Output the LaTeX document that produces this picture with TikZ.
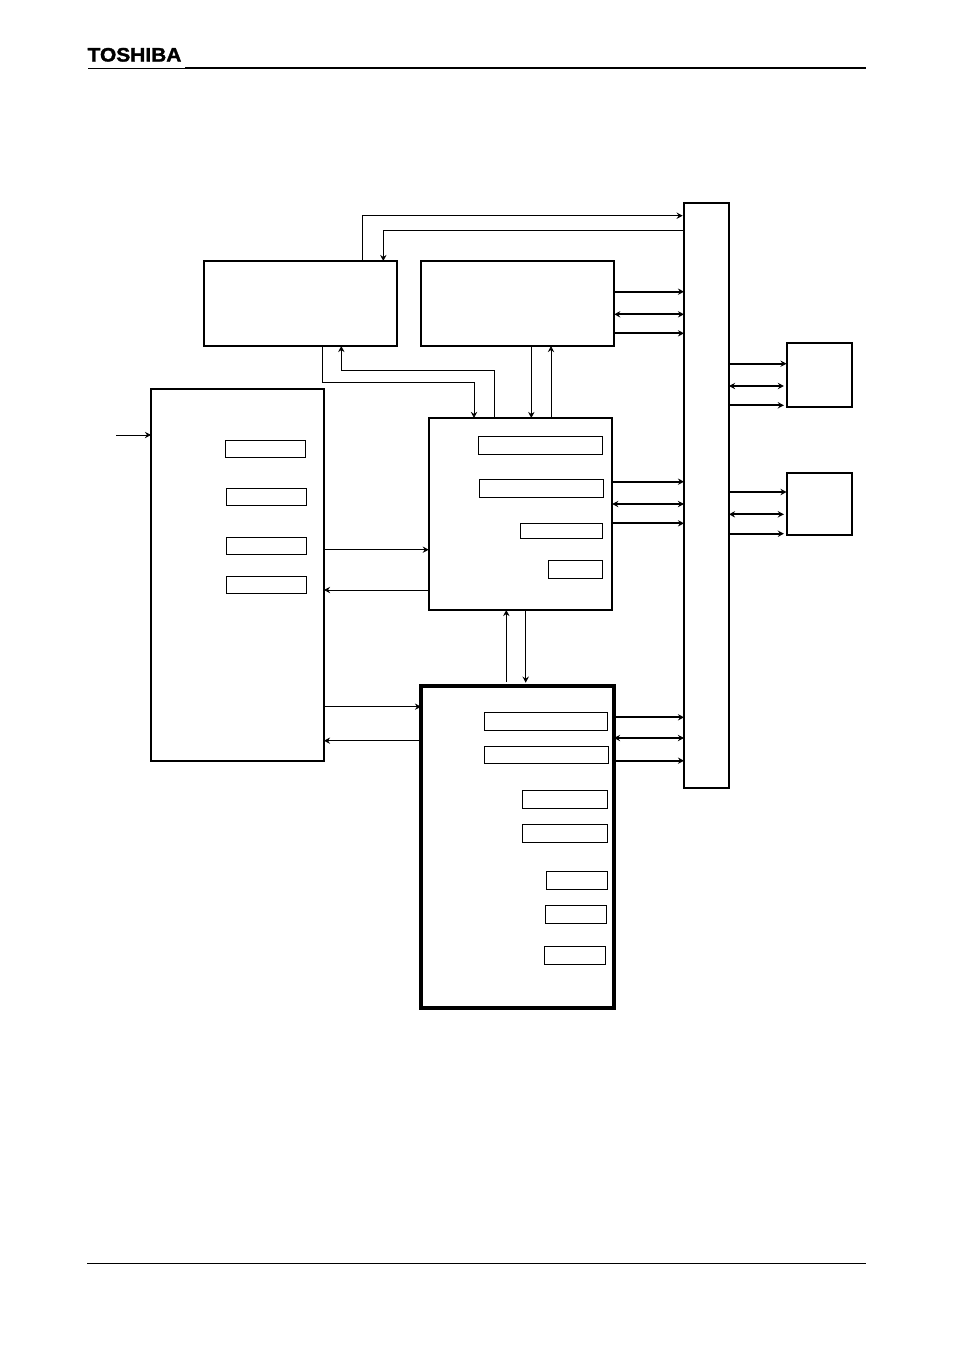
\documentclass[tikz,border=0pt]{standalone}
\usepackage{fontspec}
\setmainfont{Liberation Sans}
\newfontfamily\logofont[FakeBold=1.6,FakeStretch=1.075]{Liberation Sans Bold}
\usetikzlibrary{arrows.meta}

\tikzset{
  wh/.style 2 args={minimum width=#1*0.75pt,minimum height=#2*0.75pt},
  blk/.style={draw,line width=1.5pt,inner sep=0pt,outer sep=0pt},
  reg/.style={draw,line width=0.7pt,inner sep=0pt,outer sep=0pt},
  sig/.style={line width=0.6pt},
  bundle/.style={line width=1.3pt},
  >={Stealth[length=4.6pt,width=4.8pt,inset=1.6pt]}
}

\begin{document}
\begin{tikzpicture}[x=0.75pt,y=-0.75pt]
\useasboundingbox (0,0) rectangle (954,1350);

% page header and footer
\node[inner sep=0pt,font=\fontsize{14.6}{16}\logofont] (logo) at (134.5,54.8) {TOSHIBA};
\coordinate (h0) at (88,68.4);
\coordinate (h1) at (185,68.4);
\coordinate (h2) at (866,67.8);
\coordinate (f0) at (87,1263);
\coordinate (f1) at (866,1263);
\draw[line width=0.6pt] (h0)--(h1);
\draw[line width=1.3pt] (h1 |- h2)--(h2);
\draw[line width=0.6pt] (f0)--(f1);

% main blocks
\node[blk,wh={193}{85}] (topl) at (300.5,303.5) {};
\node[blk,wh={193.5}{85}] (topr) at (517.5,303.5) {};
\node[blk,wh={173}{372}] (left) at (237.5,575) {};
\node[blk,wh={183.5}{192}] (mid) at (520.5,514) {};
\node[blk,line width=2.6pt,wh={193}{322}] (low) at (517.5,847) {};
\node[blk,wh={45}{585}] (bus) at (706.5,495.5) {};
\node[blk,wh={65.5}{64}] (ext1) at (819.3,375) {};
\node[blk,wh={65.5}{62.5}] (ext2) at (819.3,504) {};

% registers in the left block
\node[reg,wh={80}{17}] (left1) at (265,448.5) {};
\node[reg,wh={80}{17}] (left2) at (266,496.5) {};
\node[reg,wh={80}{17}] (left3) at (266.5,545.5) {};
\node[reg,wh={80}{17}] (left4) at (266.5,584.5) {};

% registers in the middle block
\node[reg,wh={124}{18}] (mid1) at (540,445) {};
\node[reg,wh={124}{18}] (mid2) at (541,488) {};
\node[reg,wh={82}{15}] (mid3) at (561,530.5) {};
\node[reg,wh={54}{18}] (mid4) at (575,569) {};

% registers in the low block
\node[reg,wh={123}{17.5}] (low1) at (546,721.5) {};
\node[reg,wh={124}{17.5}] (low2) at (546.5,755) {};
\node[reg,wh={85}{18}] (low3) at (564.5,799) {};
\node[reg,wh={85}{18}] (low4) at (564.5,833) {};
\node[reg,wh={61}{18}] (low5) at (576.5,880) {};
\node[reg,wh={61}{18}] (low6) at (575.5,914) {};
\node[reg,wh={61}{18}] (low7) at (574.5,955) {};

% single signals
\coordinate (in) at (116,435);
\draw[->,sig] (in)--(left.west |- in);
\draw[->,sig,shorten >=1pt] (topl.north -| 362.3,0)|-(bus.west |- 0,215.7);
\draw[->,sig] (bus.west |- 0,230.7)-|(topl.north -| 383.3,0);
\draw[->,sig] (topl.south -| 322.7,0)--(322.7,382.7)-|(mid.north -| 474,0);
\draw[->,sig] (mid.north -| 494.3,0)--(494.3,370.3)-|(topl.south -| 341.3,0);
\draw[->,sig] (topr.south -| 531.3,0)--(mid.north -| 531.3,0);
\draw[->,sig] (mid.north -| 551,0)--(topr.south -| 551,0);
\draw[->,sig] (left.east |- 0,549.7)--(mid.west |- 0,549.7);
\draw[->,sig] (mid.west |- 0,590)--(left.east |- 0,590);
\draw[->,sig] (left.east |- 0,706.7)--(low.west |- 0,706.7);
\draw[->,sig] (low.west |- 0,740.7)--(left.east |- 0,740.7);
\draw[->,sig,shorten <=3pt] (low.north -| 506.3,0)--(mid.south -| 506.3,0);
\draw[->,sig,shorten >=2.5pt] (mid.south -| 525.7,0)--(low.north -| 525.7,0);

% bundles to the bus
\foreach \a/\ya/\yb/\yc in {topr/291.7/314.3/333.3,mid/481.7/504/523.3,low/717.3/738/760.7}{
  \draw[->,bundle] (\a.east |- 0,\ya)--(bus.west |- 0,\ya);
  \draw[<->,bundle] (\a.east |- 0,\yb)--(bus.west |- 0,\yb);
  \draw[->,bundle] (\a.east |- 0,\yc)--(bus.west |- 0,\yc);
}
\foreach \a/\ya/\yb/\yc in {ext1/363.7/386/405.3,ext2/492/514.3/533.7}{
  \draw[->,bundle] (bus.east |- 0,\ya)--(\a.west |- 0,\ya);
  \draw[<->,bundle,shorten >=2pt] (bus.east |- 0,\yb)--(\a.west |- 0,\yb);
  \draw[->,bundle,shorten >=2pt] (bus.east |- 0,\yc)--(\a.west |- 0,\yc);
}
\end{tikzpicture}
\end{document}
